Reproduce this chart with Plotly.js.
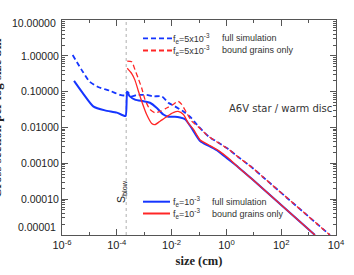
<!DOCTYPE html>
<html>
<head>
<meta charset="utf-8">
<script src="https://cdn.plot.ly/plotly-3.0.1.min.js"></script>
<style>html,body{margin:0;padding:0;background:#fff;}#plot{width:354px;height:275px;}</style>
</head>
<body>
<div id="plot"></div>
<script>
// ---- data (size in cm, fraction per log size bin) ----
const sizeBlueDashed = [2.45e-6, 5.75e-6, 1.02e-5, 2.09e-5, 5.6e-5, 1.32e-4, 2.0e-4, 2.4e-4, 3.5e-4, 5.4e-4, 1.23e-3, 2.14e-3, 4.4e-3, 7.6e-3, 1.32e-2, 2.7e-2, 4.7e-2, 9.3e-2, 0.22, 0.50, 1.17, 2.7, 8.4, 22, 6000];
const valBlueDashed  = [1.05, 0.36, 0.19, 0.135, 0.106, 0.081, 0.079, 0.10, 0.074, 0.081, 0.081, 0.074, 0.074, 0.049, 0.039, 0.028, 0.020, 0.011, 0.0057, 0.0038, 0.0025, 0.0015, 0.00078, 0.00041, 1e-5];

const sizeBlueSolid = [2.75e-6, 5.75e-6, 1.38e-5, 3.7e-5, 1.0e-4, 1.66e-4, 2.1e-4, 2.4e-4, 3.0e-4, 4.6e-4, 9.3e-4, 1.62e-3, 2.9e-3, 5.0e-3, 7.6e-3, 1.32e-2, 2.04e-2, 3.1e-2, 5.0e-2, 0.11, 0.22, 0.50, 1.17, 2.7, 8.4, 1700];
const valBlueSolid  = [0.20, 0.091, 0.039, 0.030, 0.026, 0.022, 0.021, 0.095, 0.074, 0.060, 0.054, 0.049, 0.035, 0.023, 0.020, 0.020, 0.019, 0.017, 0.0105, 0.0042, 0.0031, 0.0022, 0.0013, 0.00078, 0.00037, 1e-5];

const sizeRedDashed = [2.4e-4, 3.5e-4, 4.6e-4, 6.0e-4, 8.1e-4, 1.07e-3, 1.62e-3, 2.45e-3, 3.8e-3, 6.6e-3, 1.15e-2, 1.74e-2, 2.34e-2, 3.5e-2, 5.4e-2, 9.3e-2, 0.22, 0.50, 1.17, 2.7, 8.4, 22, 6000];
const valRedDashed  = [0.71, 0.68, 0.41, 0.24, 0.126, 0.06, 0.032, 0.026, 0.028, 0.035, 0.044, 0.054, 0.044, 0.026, 0.015, 0.0105, 0.0057, 0.0038, 0.0025, 0.0015, 0.00078, 0.00041, 1e-5];

const sizeRedSolid = [2.4e-4, 3.5e-4, 4.6e-4, 6.0e-4, 8.1e-4, 1.23e-3, 1.88e-3, 2.45e-3, 3.8e-3, 6.6e-3, 1.15e-2, 1.74e-2, 2.7e-2, 4.1e-2, 6.2e-2, 0.11, 0.22, 0.50, 1.17, 2.7, 8.4, 1700];
const valRedSolid  = [0.45, 0.32, 0.21, 0.11, 0.054, 0.023, 0.013, 0.012, 0.015, 0.020, 0.026, 0.028, 0.023, 0.013, 0.009, 0.0045, 0.0033, 0.0023, 0.0014, 0.00078, 0.00037, 1e-5];

const sBlow = 2.2e-4;
const sBlowLineY = [1e-5, 10];

const xTickVals = [1e-6, 1e-4, 1e-2, 1, 1e2, 1e4];
const xTickText = ['10<sup>-6</sup>', '10<sup>-4</sup>', '10<sup>-2</sup>', '10<sup>0</sup>', '10<sup>2</sup>', '10<sup>4</sup>'];
const yTickVals = [1e-5, 1e-4, 1e-3, 1e-2, 0.1, 1, 10];
const yTickText = ['0.00001', '0.00010', '0.00100', '0.01000', '0.10000', '1.00000', '10.00000'];

const legendLabels = ['f<sub>e</sub>=5x10<sup>-3</sup>', 'f<sub>e</sub>=5x10<sup>-3</sup>', 'f<sub>e</sub>=10<sup>-3</sup>', 'f<sub>e</sub>=10<sup>-3</sup>'];
const legendDescr = ['full simulation', 'bound grains only', 'full simulation', 'bound grains only'];
const discLabel = 'A6V star / warm disc';
const xTitle = 'size (cm)';
const yTitle = 'Cross section per log size bin';

// ---- styles ----
const BLUE = '#1535ff';
const RED = '#ff2626';
const AX = '#555555';
const DASH = '5px,3px';
const SANS = 'Liberation Sans, Arial, sans-serif';
const SERIF = 'Liberation Serif, Times New Roman, serif';

const L = 62, T = 20, W = 274, H = 215;
const px = x => (x - L) / W;
const py = y => (T + H - y) / H;

// minor ticks
const yMinor = [];
for (let e = -5; e < 1; e++) for (let d = 2; d <= 9; d++) yMinor.push(d * Math.pow(10, e));
const xMinor = [1e-5, 1e-3, 1e-1, 10, 1e3];

const traces = [
  {x: [sBlow, sBlow], y: sBlowLineY, mode: 'lines', line: {color: '#b0b0b0', width: 1, dash: 'dot'}, hoverinfo: 'skip'},
  {x: sizeBlueDashed, y: valBlueDashed, mode: 'lines', line: {color: BLUE, width: 1.8, dash: DASH, shape: 'spline', smoothing: 0.6}},
  {x: sizeBlueSolid, y: valBlueSolid, mode: 'lines', line: {color: BLUE, width: 2, shape: 'spline', smoothing: 0.6}},
  {x: sizeRedDashed, y: valRedDashed, mode: 'lines', line: {color: RED, width: 1.3, dash: DASH, shape: 'spline', smoothing: 0.6}},
  {x: sizeRedSolid, y: valRedSolid, mode: 'lines', line: {color: RED, width: 1.3, shape: 'spline', smoothing: 0.6}}
];

const legendY = [38.3, 50.5, 201.7, 213.5];
const legendColors = [BLUE, RED, BLUE, RED];
const legendDash = ['dash', 'dash', 'solid', 'solid'];
const legendX1 = [172, 172, 170, 170];
const legendTextX = [171, 171, 170.5, 170.5];
const legendDescrX = [219.5, 219.5, 209.5, 209.5];

const shapes = [];
const annotations = [];
for (let i = 0; i < 4; i++) {
  shapes.push({type: 'line', xref: 'paper', yref: 'paper', x0: px(143), x1: px(legendX1[i]), y0: py(legendY[i]), y1: py(legendY[i]),
    line: {color: legendColors[i], width: legendDash[i] === 'dash' ? 1.8 : 2, dash: legendDash[i] === 'dash' ? DASH : 'solid'}});
  annotations.push({xref: 'paper', yref: 'paper', x: px(legendTextX[i]), y: py(legendY[i]), xanchor: 'left', yanchor: 'middle', showarrow: false,
    text: legendLabels[i], font: {family: SANS, size: 9, color: '#333'}});
  annotations.push({xref: 'paper', yref: 'paper', x: px(legendDescrX[i]), y: py(legendY[i]), xanchor: 'left', yanchor: 'middle', showarrow: false,
    text: legendDescr[i], font: {family: SANS, size: 9, color: '#333'}});
}
annotations.push({xref: 'paper', yref: 'paper', x: px(334), y: py(108), xanchor: 'right', yanchor: 'middle', showarrow: false,
  text: discLabel, font: {family: 'DejaVu Sans, sans-serif', size: 10, color: '#333'}});
annotations.push({xref: 'paper', yref: 'paper', x: px(122), y: py(192), xanchor: 'center', yanchor: 'middle', showarrow: false, textangle: -90,
  text: 'S<sub>blow</sub>', font: {family: SANS, size: 10.5, color: '#222'}});
annotations.push({xref: 'paper', yref: 'paper', x: px(-3), y: py(118), xanchor: 'center', yanchor: 'middle', showarrow: false, textangle: -90,
  text: '<b>' + yTitle + '</b>', font: {family: SERIF, size: 13, color: '#222'}});

// y tick labels: the two extreme labels are nudged inward as in the reference
const yLabelShown = yTickText.map((t, i) => (i === 0 || i === yTickText.length - 1) ? '' : t);
annotations.push({xref: 'paper', yref: 'paper', x: px(58), y: py(227), xanchor: 'right', yanchor: 'middle', showarrow: false,
  text: yTickText[0], font: {family: SANS, size: 10.5, color: '#222'}});
annotations.push({xref: 'paper', yref: 'paper', x: px(58), y: py(22.5), xanchor: 'right', yanchor: 'middle', showarrow: false,
  text: yTickText[yTickText.length - 1], font: {family: SANS, size: 10.5, color: '#222'}});

const layout = {
  width: 354, height: 275,
  margin: {l: L, r: 354 - L - W, t: T, b: 275 - T - H, pad: 0},
  paper_bgcolor: '#fff', plot_bgcolor: '#fff',
  showlegend: false,
  font: {family: SANS, size: 11, color: '#222'},
  xaxis: {
    type: 'log', range: [-6, 4], showgrid: false, zeroline: false,
    showline: true, linecolor: AX, linewidth: 1, mirror: 'allticks',
    ticks: 'inside', ticklen: 6, tickcolor: AX,
    tickmode: 'array', tickvals: xTickVals, ticktext: xTickText,
    tickfont: {size: 11, color: '#222'},
    minor: {tickmode: 'array', tickvals: xMinor, ticks: 'inside', ticklen: 3, tickcolor: AX, showgrid: false},
    title: {text: '<b>' + xTitle + '</b>', font: {family: SERIF, size: 12.5, color: '#222'}, standoff: 6},
    automargin: false
  },
  yaxis: {
    type: 'log', range: [-5, 1], showgrid: false, zeroline: false,
    showline: true, linecolor: AX, linewidth: 1, mirror: 'allticks',
    ticks: 'inside', ticklen: 6, tickcolor: AX,
    tickmode: 'array', tickvals: yTickVals, ticktext: yLabelShown,
    tickfont: {size: 10.5, color: '#222'},
    minor: {tickmode: 'array', tickvals: yMinor, ticks: 'inside', ticklen: 3, tickcolor: AX, showgrid: false},
    automargin: false
  },
  shapes: shapes,
  annotations: annotations
};

Plotly.newPlot('plot', traces, layout, {staticPlot: true, displayModeBar: false});
</script>
</body>
</html>
